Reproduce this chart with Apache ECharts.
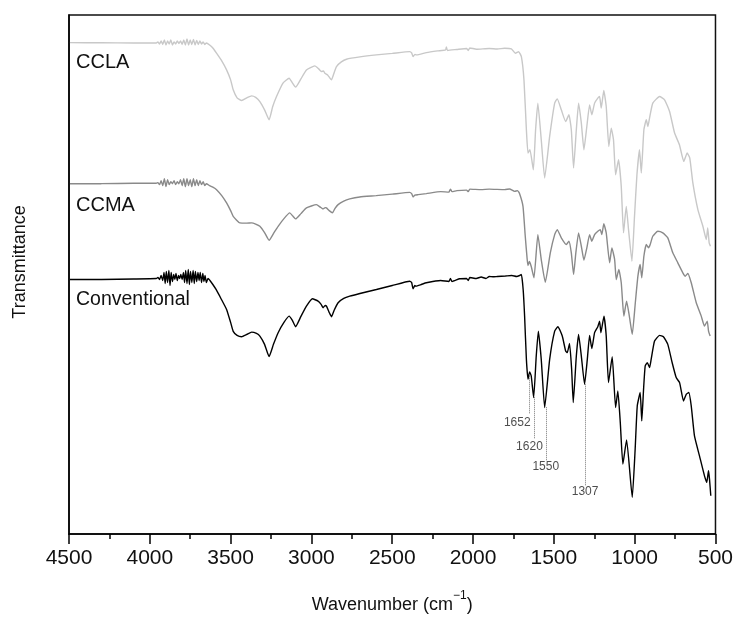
<!DOCTYPE html>
<html>
<head>
<meta charset="utf-8">
<script src="https://cdn.jsdelivr.net/npm/echarts@6/dist/echarts.min.js"></script>
<style>
html,body{margin:0;padding:0;background:#fff;}
#chart{width:736px;height:619px;}
</style>
</head>
<body>
<div id="chart"></div>
<script>
// Spectra: [wavenumber (cm-1), transmittance in arbitrary offset units]
var ccla = [
[4494,492.3],[4300,492.2],[4100,492],[3960,492],
[3950,493],[3940,491],[3930,494],[3920,490.5],[3910,495],[3900,490],[3890,494],[3880,491],[3870,495],[3860,490],
[3850,493],[3840,491],[3830,494],[3820,491.5],[3810,494],[3800,490.5],[3790,495],[3780,490],[3770,496],[3760,490],
[3750,495],[3740,490.5],[3730,495.5],[3720,490],[3710,494.5],[3700,490.5],[3690,494],[3680,491],[3670,493],[3660,490.5],
[3650,492],[3630,490],
[3610,487],[3587,481.7],[3555,474],[3525,465],[3500,455],[3484,445],[3460,437],[3432,434.3],[3400,437],[3370,439],
[3345,437.5],[3319,433.3],[3290,425],[3262,415],[3240,428],[3216,438.3],[3175,452],[3138,456.7],[3118,452],[3098,447.7],
[3065,456],[3031,465],[2979,469],[2955,466],[2938,463.3],[2925,464],[2917,461.7],[2900,460],[2876,455],[2860,462],
[2845,468.3],[2815,473],[2783,475.7],[2700,478],[2598,480],[2500,481.5],[2392,483.3],[2380,482],[2371,478.3],[2360,480.5],
[2350,480],[2289,482.3],[2220,484],[2170,485],[2165,488],[2158,484.5],[2100,485.5],[2040,486.5],[2030,484.5],[2020,487],
[1979,485.7],[1900,486.5],[1850,486],[1804,486.7],[1763,486],[1738,481.7],[1718,483.3],[1701,478.3],[1685,455],[1670,405],
[1660,381.7],[1648,385],[1627,365],[1613,405],[1599,431.7],[1578,395],[1557,356.7],[1526,398.3],[1495,431.7],[1479,436],
[1454,425],[1427,413.3],[1407,420],[1392,405],[1378,366.7],[1361,405],[1347,431.7],[1330,411.7],[1314,385],[1296,408.3],
[1279,430],[1265,420],[1248,431.7],[1228,436.7],[1217,438.3],[1207,426.7],[1191,444.3],[1176,428.3],[1160,388.3],[1145,406.7],
[1131,395],[1118,360],[1100,375],[1083,348.3],[1069,301.7],[1052,328.3],[1038,305],[1017,273.3],[1001,318.3],[986,360],
[970,385],[959,361.7],[943,405],[928,415],[918,408.3],[908,416.7],[888,431.7],[846,438.3],[815,435],[784,423.3],
[753,401.7],[723,390],[696,373.3],[675,381.7],[659,376.7],[640,351.7],[609,325],[578,308.3],[557,295],[548,306.7],
[539,291.7],[531,288.3]
];

var ccma = [
[4494,351],[4300,351],[4100,351.5],[3960,351.5],
[3950,352],[3940,350],[3930,354],[3920,349],[3910,356],[3900,348],[3890,355],[3880,350],[3870,353],[3860,351],
[3850,354],[3840,350],[3830,353],[3820,351],[3810,355],[3800,349],[3790,356],[3780,348],[3770,356],[3760,349],
[3750,355],[3740,348],[3730,356],[3720,349],[3710,355],[3700,349],[3690,354],[3680,350],[3670,353],[3660,349],
[3650,351],[3630,349],
[3610,347.5],[3587,345],[3555,339],[3525,331.7],[3500,324],[3484,318.3],[3443,311.7],[3400,311.5],[3370,311.7],[3345,310.5],
[3319,308.3],[3290,302],[3262,294.3],[3235,301],[3206,308.3],[3170,316],[3134,321.7],[3115,318.5],[3098,315.7],[3065,321],
[3031,326.7],[2969,330],[2945,327.5],[2928,325.7],[2915,327],[2907,326.7],[2890,324],[2870,321.7],[2855,326],[2835,330],
[2800,333.5],[2763,335.7],[2701,337.7],[2600,339],[2500,340.5],[2392,342.3],[2380,341],[2371,337.7],[2360,339.5],[2340,340],
[2289,341],[2200,343],[2150,342.5],[2140,345.5],[2130,343],[2100,344],[2040,344.5],[2030,343],[2020,345.5],[1950,345],
[1900,345.5],[1804,345],[1774,345.7],[1743,343.3],[1725,344],[1712,341],[1691,328.3],[1677,298.3],[1665,275],[1660,269],
[1652,273],[1640,268],[1623,256.7],[1599,300],[1578,275],[1553,252.3],[1522,281.7],[1495,300],[1479,305],[1454,296.7],
[1423,290],[1407,293.3],[1392,281.7],[1378,260],[1364,281.7],[1347,301.7],[1330,288.3],[1314,274.3],[1296,286.7],[1279,300],
[1265,293.3],[1248,300],[1228,303.3],[1213,305],[1203,300],[1191,311],[1176,301.7],[1155,271.7],[1141,286.7],[1124,275],
[1114,255],[1098,265],[1083,251.7],[1067,218.3],[1050,233.3],[1033,218.3],[1015,200],[996,231.7],[980,258.3],[966,270],
[956,256.7],[943,278.3],[928,290],[914,286.7],[904,290],[888,298.3],[857,303.3],[826,301.7],[795,296.7],[764,281.7],
[733,271.7],[702,261.7],[687,258.3],[671,261],[650,251.7],[619,231.7],[588,218.3],[568,208.3],[551,213.3],[543,203.3],
[533,198.3]
];

var conventional = [
[4494,255],[4300,255],[4100,255.5],[3960,256],
[3950,257],[3940,255],[3930,259],[3920,254],[3912,262],[3905,251],[3898,263],[3890,252],[3882,264],[3875,249],
[3868,262],[3860,253],[3852,260],[3845,255],[3838,261],[3830,254],[3822,259],[3815,256],[3808,260],[3800,255],
[3792,262],[3785,252],[3778,264],[3770,251],[3762,265],[3755,250],[3748,263],[3740,252],[3732,264],[3725,251],
[3718,263],[3710,253],[3702,262],[3695,254],[3688,262],[3680,252],[3672,261],[3665,253],[3658,259],[3650,252],
[3640,256],[3628,254],
[3610,250],[3590,245],[3560,236],[3525,225],[3500,212],[3484,203],[3460,199],[3432,197.7],[3400,200],[3370,202.3],
[3340,201],[3319,198.3],[3290,190],[3262,177.7],[3235,190],[3206,201.7],[3170,212],[3138,218.3],[3118,214],[3098,207.7],
[3065,218],[3031,228.3],[2994,235.7],[2959,233.3],[2940,230],[2928,226.7],[2915,229],[2907,228.3],[2890,222],[2876,217.7],
[2860,224],[2835,231.7],[2800,236],[2763,238.3],[2700,241],[2598,245],[2500,249],[2392,253.3],[2380,252],[2371,245.7],
[2360,249],[2354,248.3],[2320,250],[2289,251.7],[2200,254],[2150,253],[2140,256],[2130,253],[2083,255.7],[2040,256],
[2030,254],[2020,257],[1980,256],[1950,257.5],[1920,256],[1900,258],[1877,257.7],[1850,258],[1800,258.5],[1760,259],
[1730,258],[1712,259],[1701,260],[1690,245],[1681,218.3],[1670,175],[1660,155],[1650,162.3],[1640,158.3],[1625,136.7],
[1609,178.3],[1596,203.3],[1578,175],[1557,126.7],[1526,175],[1495,203.3],[1475,207.7],[1448,198.3],[1427,183.3],[1417,181.7],
[1403,191],[1390,165],[1380,131.7],[1361,178.3],[1347,200],[1330,178.3],[1310,150],[1293,175],[1279,199],[1265,185.7],
[1248,201.7],[1228,207.7],[1217,213.3],[1209,201.7],[1190,218.3],[1176,198.3],[1162,151.7],[1139,177.7],[1118,126.7],[1104,143.3],
[1089,111.7],[1073,70],[1050,94.3],[1015,36.7],[997,85],[984,128.3],[966,141.7],[956,113.3],[945,145],[935,168.3],
[922,171.7],[908,166.7],[898,175],[877,193.3],[846,199],[822,197.7],[795,190],[768,171.7],[743,156.7],[722,151.7],
[698,133.3],[681,140],[665,141.7],[650,128.3],[630,98.3],[599,78.3],[568,58.3],[554,51.7],[543,63.3],[537,55],
[529,38.3]
];

// Peak annotations on the Conventional spectrum
var annotWn = [1652, 1620, 1550, 1307];
var annotTop = [160, 137, 127, 150];
var annotBottom = [120, 95, 73, 48];
var annotLabelY = [112, 87, 67, 42];

var seriesNames = ['CCLA', 'CCMA', 'Conventional'];
var xTicks = { min: 500, max: 4500, interval: 500 };

var FONT = '"Liberation Sans", Arial, sans-serif';
var chart = echarts.init(document.getElementById('chart'), null, { renderer: 'canvas' });

var annotDx = [-12, -5, 0, 0];

chart.setOption({
  animation: false,
  backgroundColor: '#fff',
  grid: { left: 69, right: 20, top: 15, bottom: 84, show: true, borderColor: '#111', borderWidth: 1.5 },
  xAxis: {
    type: 'value', inverse: true, min: xTicks.min, max: xTicks.max, interval: xTicks.interval,
    axisLine: { show: true, lineStyle: { color: '#000', width: 1.5 } },
    axisTick: { show: true, length: 10, lineStyle: { color: '#000', width: 1.5 } },
    minorTick: { show: true, splitNumber: 2, length: 5, lineStyle: { color: '#000', width: 1.5 } },
    splitLine: { show: false },
    axisLabel: { fontSize: 21, color: '#111', margin: 14, fontFamily: FONT,
      formatter: function (v) { return String(v); } },
    name: '{a|Wavenumber (cm}{b|\u22121}{a|)}',
    nameLocation: 'middle', nameGap: 56,
    nameTextStyle: {
      rich: {
        a: { fontSize: 18, fontFamily: FONT, color: '#111', verticalAlign: 'bottom', lineHeight: 24 },
        b: { fontSize: 12, fontFamily: FONT, color: '#111', verticalAlign: 'top', lineHeight: 24 }
      }
    }
  },
  yAxis: {
    type: 'value', min: 0, max: 520,
    axisLine: { show: true, lineStyle: { color: '#000', width: 1.5 } },
    axisTick: { show: false }, axisLabel: { show: false }, splitLine: { show: false }
  },
  graphic: [
    { type: 'text', x: 20, y: 262, rotation: Math.PI / 2,
      style: { text: 'Transmittance', font: '18px ' + FONT, fill: '#111', align: 'center', verticalAlign: 'middle' } },
    { type: 'text', x: 76, y: 62, style: { text: seriesNames[0], font: '20px ' + FONT, fill: '#111', align: 'left', verticalAlign: 'middle' } },
    { type: 'text', x: 76, y: 205, style: { text: seriesNames[1], font: '20px ' + FONT, fill: '#111', align: 'left', verticalAlign: 'middle' } },
    { type: 'text', x: 76, y: 300, style: { text: seriesNames[2], font: '19.5px ' + FONT, fill: '#111', align: 'left', verticalAlign: 'middle' } }
  ],
  series: [
    { name: seriesNames[0], type: 'line', data: ccla, showSymbol: false, smooth: 0.15,
      lineStyle: { color: '#c8c8c8', width: 1.4 }, silent: true },
    { name: seriesNames[1], type: 'line', data: ccma, showSymbol: false, smooth: 0.15,
      lineStyle: { color: '#8a8a8a', width: 1.4 }, silent: true },
    { name: seriesNames[2], type: 'line', data: conventional, showSymbol: false, smooth: 0.15,
      lineStyle: { color: '#000', width: 1.4 }, silent: true,
      markLine: {
        silent: true, symbol: ['none', 'none'], label: { show: false },
        lineStyle: { type: 'dotted', color: '#777', width: 1 },
        data: annotWn.map(function (w, i) { return [{ coord: [w, annotTop[i]] }, { coord: [w, annotBottom[i]] }]; })
      }
    },
    { name: 'annotations', type: 'scatter', symbolSize: 1, silent: true,
      itemStyle: { color: 'rgba(0,0,0,0)' },
      data: annotWn.map(function (w, i) { return { value: [w, annotLabelY[i]], label: { offset: [annotDx[i], 0] } }; }),
      label: { show: true, position: 'inside', fontSize: 12, fontFamily: FONT, color: '#222',
        formatter: function (p) { return String(annotWn[p.dataIndex]); } }
    }
  ]
});
</script>
</body>
</html>
